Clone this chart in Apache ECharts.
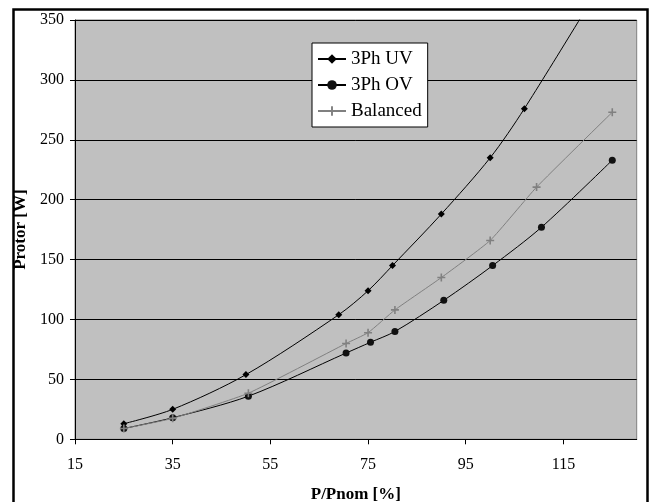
<!DOCTYPE html>
<html>
<head>
<meta charset="utf-8">
<script src="https://cdn.jsdelivr.net/npm/echarts@6/dist/echarts.min.js"></script>
<style>
html,body{margin:0;padding:0;background:#fff;}
#c{width:652px;height:502px;}
</style>
</head>
<body>
<div id="c"></div>
<script>
// Data
const seriesNames = ['3Ph UV', '3Ph OV', 'Balanced'];
const uvX = [25, 35, 50, 69, 75, 80, 90, 100, 107, 125];
const uvY = [13, 25, 54, 104, 124, 145, 188, 235, 276, 395];
const ovX = [25, 35, 50.5, 70.5, 75.5, 80.5, 90.5, 100.5, 110.5, 125];
const ovY = [9, 18, 36, 72, 81, 90, 116, 145, 177, 233];
const balX = [25, 35, 50.5, 70.5, 75, 80.5, 90, 100, 109.5, 125];
const balY = [9, 17.5, 38.5, 80, 89, 108, 135, 166, 210.5, 273];
const xTicks = [15, 35, 55, 75, 95, 115];
const yTicks = [0, 50, 100, 150, 200, 250, 300, 350];

const pairs = (xs, ys) => xs.map((x, i) => [x, ys[i]]);
const FONT = '"Liberation Serif", "Times New Roman", serif';
const plusPath = 'path://M4,0 H6 V4 H10 V6 H6 V10 H4 V6 H0 V4 H4 Z';

const chart = echarts.init(document.getElementById('c'), null, {renderer: 'canvas'});
chart.setOption({
  animation: false,
  backgroundColor: '#ffffff',
  textStyle: {fontFamily: FONT, color: '#000'},
  graphic: [{
    type: 'rect', silent: true, z: 100,
    shape: {x: 13.5, y: 9.5, width: 634, height: 510},
    style: {fill: 'none', stroke: '#000', lineWidth: 2.5}
  }],
  grid: {
    left: 75, right: 15.3, top: 20, bottom: 62.7,
    containLabel: false, outerBoundsMode: 'none',
    show: true, backgroundColor: '#c0c0c0', borderColor: '#808080', borderWidth: 1
  },
  legend: {
    left: 312, top: 43,
    orient: 'vertical',
    backgroundColor: '#ffffff',
    borderColor: '#000', borderWidth: 1,
    padding: [6, 6, 6, 5],
    itemWidth: 28, itemHeight: 12, itemGap: 6,
    textStyle: {fontFamily: FONT, fontSize: 19, color: '#000', lineHeight: 20},
    data: seriesNames
  },
  xAxis: {
    type: 'value', min: 15, max: 130, interval: 20,
    name: 'P/Pnom [%]', nameLocation: 'middle', nameGap: 47,
    nameTextStyle: {fontFamily: FONT, fontSize: 17, fontWeight: 'bold', color: '#000'},
    axisLine: {show: true, onZero: false, lineStyle: {color: '#000', width: 1}},
    axisTick: {show: true, length: 5, lineStyle: {color: '#000'}, customValues: xTicks},
    axisLabel: {fontFamily: FONT, fontSize: 16, color: '#000', margin: 17, customValues: xTicks},
    splitLine: {show: false}
  },
  yAxis: {
    type: 'value', min: 0, max: 350, interval: 50,
    name: 'Protor [W]', nameLocation: 'middle', nameGap: 39,
    nameTextStyle: {fontFamily: FONT, fontSize: 17, fontWeight: 'bold', color: '#000'},
    axisLine: {show: true, lineStyle: {color: '#000', width: 1}},
    axisTick: {show: true, length: 5, lineStyle: {color: '#000'}, customValues: yTicks},
    axisLabel: {fontFamily: FONT, fontSize: 16, color: '#000', margin: 11, customValues: yTicks},
    splitLine: {show: true, lineStyle: {color: '#000', width: 1}}
  },
  series: [
    {
      name: seriesNames[0], type: 'line', data: pairs(uvX, uvY),
      smooth: 0.3, clip: true,
      symbol: 'diamond', symbolSize: 7,
      lineStyle: {color: '#000', width: 1},
      itemStyle: {color: '#000'}, z: 3
    },
    {
      name: seriesNames[1], type: 'line', data: pairs(ovX, ovY),
      smooth: 0.3, clip: true,
      symbol: 'circle', symbolSize: 7,
      lineStyle: {color: '#000', width: 1},
      itemStyle: {color: '#111'}, z: 2
    },
    {
      name: seriesNames[2], type: 'line', data: pairs(balX, balY),
      smooth: 0.15, clip: true,
      symbol: plusPath, symbolSize: 8,
      lineStyle: {color: '#808080', width: 1},
      itemStyle: {color: '#808080'}, z: 4
    }
  ]
});
</script>
</body>
</html>
